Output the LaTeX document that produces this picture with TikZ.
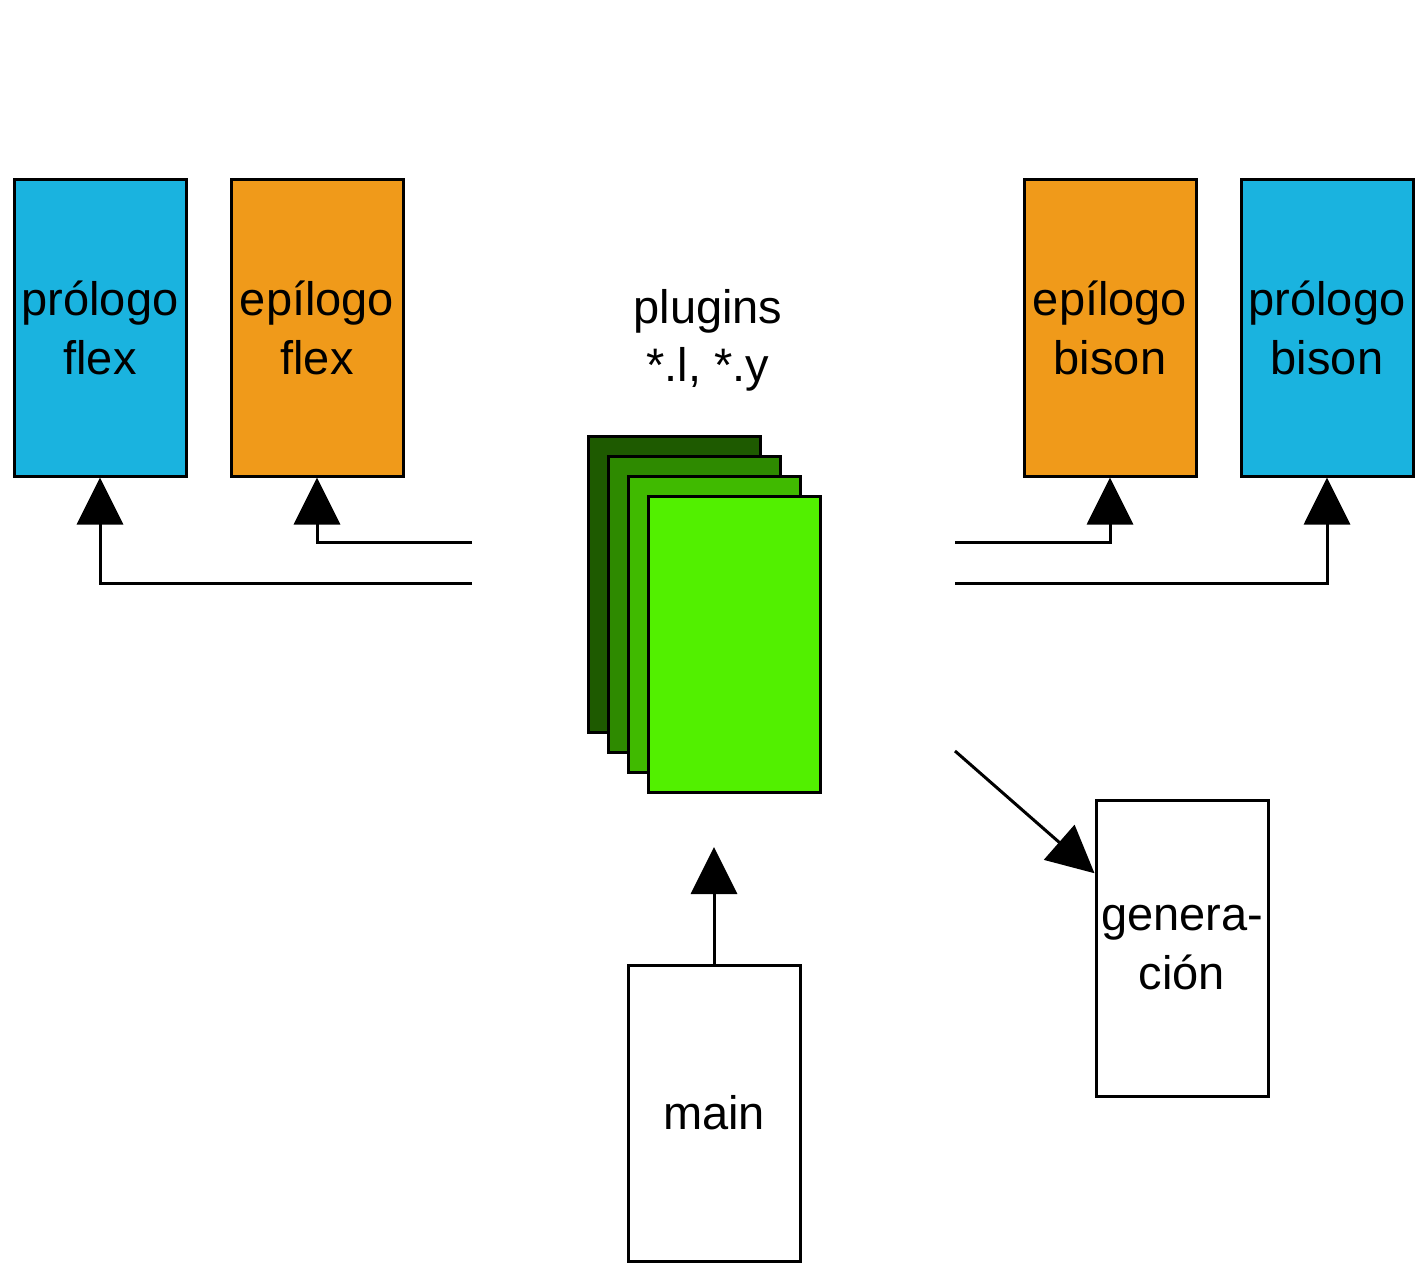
\documentclass[tikz,border=0pt]{standalone}
\usepackage{fontspec}
\setmainfont{Liberation Sans}
\usetikzlibrary{arrows.meta,calc}
\definecolor{cblue}{HTML}{1AB3DF}
\definecolor{corange}{HTML}{F09A1A}
\definecolor{gA}{HTML}{1E5A00}
\definecolor{gB}{HTML}{2E8A00}
\definecolor{gC}{HTML}{40BA00}
\definecolor{gD}{HTML}{52F000}
\tikzset{
  box/.style={draw=black, line width=3pt, minimum width=172pt, minimum height=296pt,
    inner sep=0pt, align=center, font=\fontsize{47}{59}\selectfont},
  conn/.style={line width=3pt, -{Triangle[length=47pt,width=46pt]}},
  lbl/.style={align=center, font=\fontsize{47}{58}\selectfont, inner sep=0pt}
}
\begin{document}
\begin{tikzpicture}[x=1pt,y=-1pt]
\useasboundingbox (0,0) rectangle (1428,1276);
\node[box, fill=cblue] (pf) at (100,328) {prólogo\\flex};
\node[box, fill=corange] (ef) at (317,328) {epílogo\\flex};
\node[box, fill=corange] (eb) at (1110,328) {epílogo\\bison};
\node[box, fill=cblue] (pb) at (1327,328) {prólogo\\bison};
\node[lbl] (pl) at (708,340) {plugins\\*.l, *.y};
\node[box, fill=gA] (s1) at (674,584) {};
\node[box, fill=gB] (s2) at (694,604) {};
\node[box, fill=gC] (s3) at (714,624) {};
\node[box, fill=gD] (s4) at (734,644) {};
\node[box, fill=white] (mn) at (714,1113) {main};
\node[box, fill=white] (gen) at (1182,948) {genera-\\ción};
\coordinate (a1) at (472,542);
\coordinate (a2) at (472,583);
\coordinate (b1) at (955,542);
\coordinate (b2) at (955,583);
\coordinate (d1) at (955,751);
\coordinate (m1) at (714,847);
\draw[conn] (a1) -| (ef.south);
\draw[conn] (a2) -| (pf.south);
\draw[conn] (b1) -| (eb.south);
\draw[conn] (b2) -| (pb.south);
\draw[conn] (mn.north) -- (m1);
\draw[conn] (d1) -- ($(gen.north west)!0.25!(gen.south west)$);
\end{tikzpicture}
\end{document}
